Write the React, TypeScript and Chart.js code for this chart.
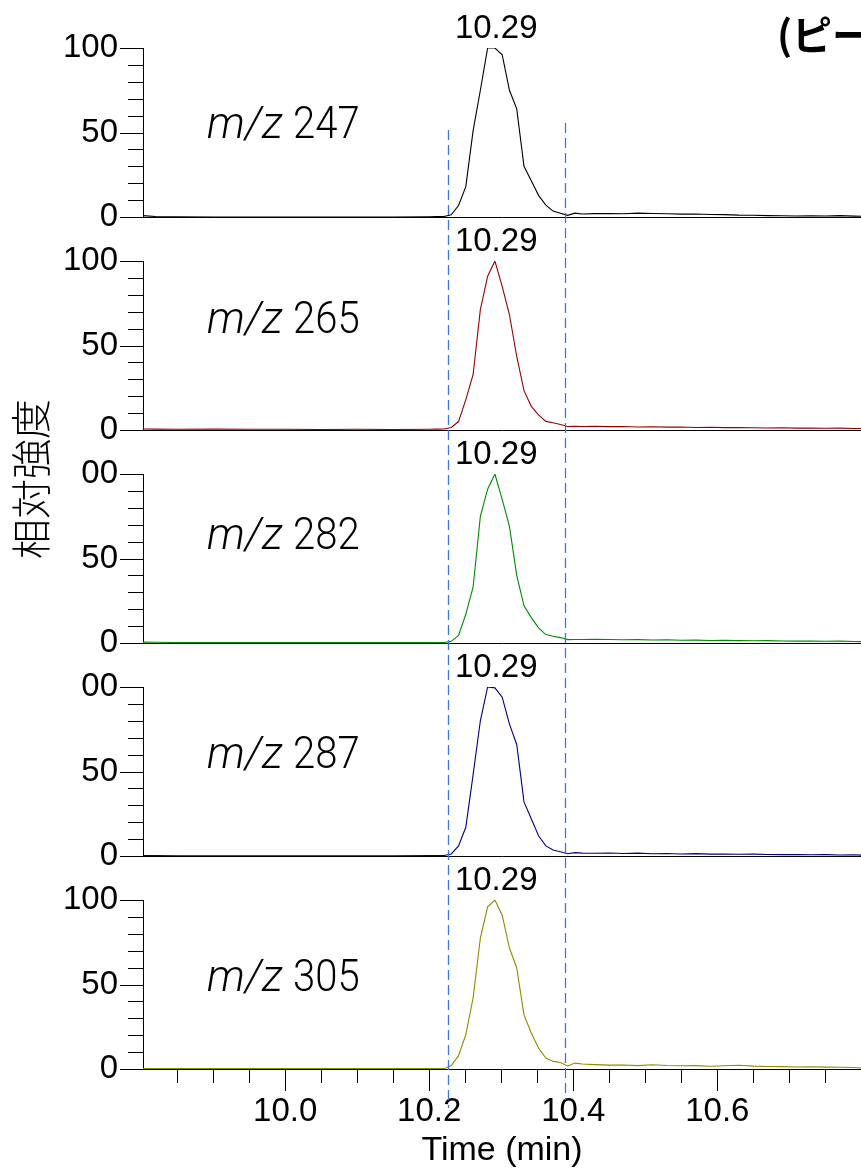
import { useEffect, useRef } from 'react';
import { Chart, registerables } from 'chart.js';

Chart.register(...registerables);
Chart.defaults.font.family = '"Liberation Sans", Arial, sans-serif';

// ---------- data ----------
const times = [
  9.8026, 9.82, 9.85, 9.9, 9.95, 10.0, 10.05, 10.1, 10.15, 10.2, 10.21,
  10.2205, 10.2306, 10.2407, 10.2508, 10.2609, 10.271, 10.2811, 10.2912, 10.3013, 10.3114,
  10.3215, 10.3316, 10.3417, 10.3518, 10.3619, 10.372, 10.3821, 10.3922, 10.4023, 10.4124,
  10.43, 10.45, 10.47, 10.49, 10.51, 10.53, 10.55, 10.57, 10.59, 10.61,
  10.63, 10.65, 10.67, 10.69, 10.71, 10.73, 10.75, 10.77, 10.79, 10.7995,
];

const mz247 = [
  0.8, 0.3, 0.1, 0, 0, 0, 0, 0, 0, 0.1, 0.2,
  0.3, 1.3, 6.8, 18, 51, 75, 100, 100, 96, 75,
  64, 30, 21.5, 12.8, 7, 3.5, 2.2, 1.0, 2.3, 1.8,
  2.0, 2.0, 1.9, 2.3, 2.1, 1.9, 1.7, 1.8, 1.5, 1.4,
  1.1, 1.0, 0.8, 0.7, 0.6, 0.7, 0.6, 0.8, 0.5, 0.4,
];
const mz265 = [
  0.6, 0.5, 0.4, 0.5, 0.4, 0.4, 0.3, 0.4, 0.3, 0.4, 0.5,
  0.6, 1.5, 5, 18, 32.7, 71.2, 91, 100, 85, 68.2,
  43.5, 23.3, 14, 9, 5.1, 4.3, 3.2, 2.1, 2.2, 2.1,
  2.2, 2.0, 2.1, 1.8, 1.9, 1.7, 1.8, 1.5, 1.6, 1.4,
  1.5, 1.3, 1.2, 1.3, 1.1, 1.2, 1.0, 1.1, 0.9, 0.9,
];
const mz282 = [
  0.5, 0.4, 0.3, 0.3, 0.3, 0.2, 0.3, 0.2, 0.3, 0.3, 0.3,
  0.3, 1.0, 4.5, 17, 33, 75, 91, 100, 85, 69,
  40, 22, 15, 9, 5, 4, 3.2, 2, 2.1, 2.1,
  2.2, 2.1, 1.9, 2.0, 1.8, 1.9, 1.6, 1.7, 1.5, 1.6,
  1.4, 1.3, 1.4, 1.2, 1.1, 1.2, 1.0, 1.1, 0.9, 0.8,
];
const mz287 = [
  0.3, 0.2, 0.1, 0.1, 0.1, 0.1, 0.1, 0.1, 0.1, 0.2, 0.2,
  0.3, 1.2, 6, 17, 48, 80, 100, 99.5, 94, 78,
  66, 32, 22, 12, 6, 3.5, 2.5, 1.3, 2.0, 1.7,
  1.6, 1.8, 1.5, 1.7, 1.3, 1.5, 1.2, 1.4, 1.1, 1.2,
  1.0, 1.1, 0.9, 0.8, 0.9, 0.7, 0.8, 0.6, 0.7, 0.5,
];
const mz305 = [
  0.3, 0.2, 0.2, 0.2, 0.2, 0.2, 0.2, 0.2, 0.2, 0.2, 0.2,
  0.2, 2.0, 7.9, 20.3, 42, 77.5, 96, 100, 91, 71.6,
  59.8, 32, 21.3, 12.4, 6.5, 4.5, 3.9, 1.8, 3.5, 3.0,
  2.6, 2.3, 2.4, 2.0, 2.5, 2.1, 1.9, 2.0, 1.6, 1.9,
  2.2, 1.7, 1.5, 1.4, 1.2, 1.3, 1.1, 1.0, 0.9, 0.6,
];

const seriesValues = [mz247, mz265, mz282, mz287, mz305];
const seriesMz = ['247', '265', '282', '287', '305'];
const seriesColors = ['#000000', '#990000', '#008a00', '#000080', '#8c8c00'];
const peakLabel = '10.29';
const peakLabelX = 10.293;
const peakBounds = [10.2257, 10.3883];

const xTickValues = [
  9.85, 9.9, 9.95, 10.0, 10.05, 10.1, 10.15, 10.2, 10.25, 10.3,
  10.35, 10.4, 10.45, 10.5, 10.55, 10.6, 10.65, 10.7, 10.75,
];
const xLabelValues = [10.0, 10.2, 10.4, 10.6];
const yMajorTicks = [0, 50, 100];
const yMinorTicks = [10, 20, 30, 40, 60, 70, 80, 90];
const yTopTickText = ['100', '100', '00', '00', '100'];

const xTitle = 'Time (min)';
const yTitle = '相対強度';
const mainTitle = '(ピーク';

// ---------- layout ----------
const W = 861;
const H = 1173;
const X_MIN = 9.8026;
const X_MAX = 10.7995;
const PANEL_TOPS = [48, 261, 474, 687, 900];
const PANEL_H = 169;
const PLOT_LEFT = 143;
const X_AXIS_H = 102;
const MZ_LABEL_X = 9.8916;
const MZ_LABEL_Y = [53.4, 64, 62.3, 58.8, 52.8];
const DASH_TOP = [51.5, 55.6]; // in panel-1 units
const DASH_BOTTOM = [-23.1, -18.3]; // in panel-5 units

const FONT = '"Liberation Sans", Arial, sans-serif';
const LIGHT = 'Roboto, "Liberation Sans", sans-serif';
const CJK = '"Noto Sans CJK JP", "Noto Sans CJK SC", sans-serif';

function makePlugin(i: number, charts: Chart[]) {
  const last = i === seriesValues.length - 1;
  return {
    id: 'panelDecor' + i,
    afterDraw(chart: any) {
      const ctx: CanvasRenderingContext2D = chart.ctx;
      const xs = chart.scales.x;
      const ys = chart.scales.y;
      const area = chart.chartArea;
      ctx.save();
      // y ticks
      ctx.strokeStyle = '#000';
      ctx.lineWidth = 1;
      ctx.beginPath();
      yMajorTicks.forEach((v) => {
        const py = Math.round(ys.getPixelForValue(v)) + 0.5;
        ctx.moveTo(area.left - 23, py);
        ctx.lineTo(area.left, py);
      });
      yMinorTicks.forEach((v) => {
        const py = Math.round(ys.getPixelForValue(v)) + 0.5;
        ctx.moveTo(area.left - 15, py);
        ctx.lineTo(area.left, py);
      });
      if (last) {
        xTickValues.forEach((v) => {
          const px = Math.round(xs.getPixelForValue(v)) + 0.5;
          const major = xLabelValues.some((l) => Math.abs(l - v) < 1e-6);
          ctx.moveTo(px, area.bottom);
          ctx.lineTo(px, area.bottom + (major ? 22 : 14));
        });
      }
      ctx.stroke();

      // peak label
      ctx.fillStyle = '#000';
      ctx.font = '33px ' + FONT;
      ctx.textAlign = 'center';
      ctx.textBaseline = 'alphabetic';
      ctx.fillText(peakLabel, xs.getPixelForValue(peakLabelX), ys.getPixelForValue(100) - 10);

      // m/z label
      ctx.save();
      ctx.translate(xs.getPixelForValue(MZ_LABEL_X), ys.getPixelForValue(MZ_LABEL_Y[i]));
      ctx.textAlign = 'left';
      ctx.textBaseline = 'middle';
      ctx.font = 'italic 300 44px ' + LIGHT;
      ctx.fillText('m/z', 0, 0);
      ctx.translate(86, 0);
      ctx.scale(0.91, 1);
      ctx.font = '300 44px ' + LIGHT;
      ctx.fillText(seriesMz[i], 0, 0);
      ctx.restore();

      if (i === 0) {
        // main title (cut off at the right edge)
        ctx.font = 'bold 40px ' + CJK;
        ctx.textAlign = 'left';
        ctx.textBaseline = 'alphabetic';
        ctx.fillText(mainTitle, 777, 50);
      }
      if (i === 2) {
        ctx.save();
        ctx.translate(31, 479);
        ctx.rotate(-Math.PI / 2);
        ctx.font = '300 40px ' + CJK;
        ctx.textAlign = 'center';
        ctx.textBaseline = 'middle';
        ctx.fillText(yTitle, 0, 0);
        ctx.restore();
      }
      if (last && charts[0]) {
        const topY = charts[0].scales.y;
        ctx.strokeStyle = '#3d78d8';
        ctx.lineWidth = 1.3;
        ctx.setLineDash([10, 5]);
        peakBounds.forEach((t, k) => {
          const px = Math.round(xs.getPixelForValue(t)) + 0.5;
          ctx.beginPath();
          ctx.moveTo(px, topY.getPixelForValue(DASH_TOP[k]));
          ctx.lineTo(px, ys.getPixelForValue(DASH_BOTTOM[k]));
          ctx.stroke();
        });
      }
      ctx.restore();
    },
  };
}

export default function App() {
  const canvasRefs = useRef<(HTMLCanvasElement | null)[]>([]);

  useEffect(() => {
    const charts: Chart[] = [];
    seriesValues.forEach((vals, i) => {
      const canvas = canvasRefs.current[i];
      if (!canvas) return;
      const last = i === seriesValues.length - 1;
      const xh = last ? X_AXIS_H : 0;
      const chart = new Chart(canvas, {
        type: 'line',
        data: {
          datasets: [
            {
              label: 'm/z ' + seriesMz[i],
              data: times.map((t, j) => ({ x: t, y: vals[j] })),
              borderColor: seriesColors[i],
              borderWidth: 1.1,
              pointRadius: 0,
              tension: 0,
              fill: false,
            },
          ],
        },
        options: {
          animation: false,
          responsive: false,
          devicePixelRatio: 1,
          events: [],
          layout: {
            padding: {
              top: PANEL_TOPS[i],
              bottom: H - (PANEL_TOPS[i] + PANEL_H) - xh,
              left: 0,
              right: 0,
            },
          },
          plugins: { legend: { display: false }, tooltip: { enabled: false }, title: { display: false } },
          scales: {
            x: {
              type: 'linear',
              min: X_MIN,
              max: X_MAX,
              afterBuildTicks: (s: any) => {
                s.ticks = xTickValues.map((v) => ({ value: v }));
              },
              afterFit: (s: any) => {
                s.height = xh;
              },
              grid: { display: true, drawOnChartArea: false, drawTicks: false },
              border: { display: true, color: '#000', width: 1 },
              ticks: {
                display: last,
                autoSkip: false,
                maxRotation: 0,
                padding: 23,
                color: '#000',
                font: { size: 33 },
                callback: (v: any) =>
                  xLabelValues.some((l) => Math.abs(l - Number(v)) < 1e-6) ? Number(v).toFixed(1) : '',
              },
              title: {
                display: last,
                text: xTitle,
                color: '#000',
                font: { size: 34 },
                padding: { top: 0, bottom: 0 },
              },
            },
            y: {
              type: 'linear',
              min: 0,
              max: 100,
              afterBuildTicks: (s: any) => {
                s.ticks = yMajorTicks.map((v) => ({ value: v }));
              },
              afterFit: (s: any) => {
                s.width = PLOT_LEFT;
              },
              grid: { display: true, drawOnChartArea: false, drawTicks: false },
              border: { display: true, color: '#000', width: 1 },
              ticks: {
                padding: 25,
                color: '#000',
                font: { size: 33 },
                callback: (v: any) => (Number(v) === 100 ? yTopTickText[i] : String(v)),
              },
            },
          },
        },
        plugins: [makePlugin(i, charts)],
      } as any);
      charts.push(chart);
    });
    return () => charts.forEach((c) => c.destroy());
  }, []);

  return (
    <div style={{ position: 'absolute', left: 0, top: 0, width: W, height: H, background: '#fff', overflow: 'hidden' }}>
      {seriesValues.map((_, i) => (
        <canvas
          key={i}
          ref={(el) => {
            canvasRefs.current[i] = el;
          }}
          width={W}
          height={H}
          style={{ position: 'absolute', left: 0, top: 0, width: W, height: H }}
        />
      ))}
    </div>
  );
}
